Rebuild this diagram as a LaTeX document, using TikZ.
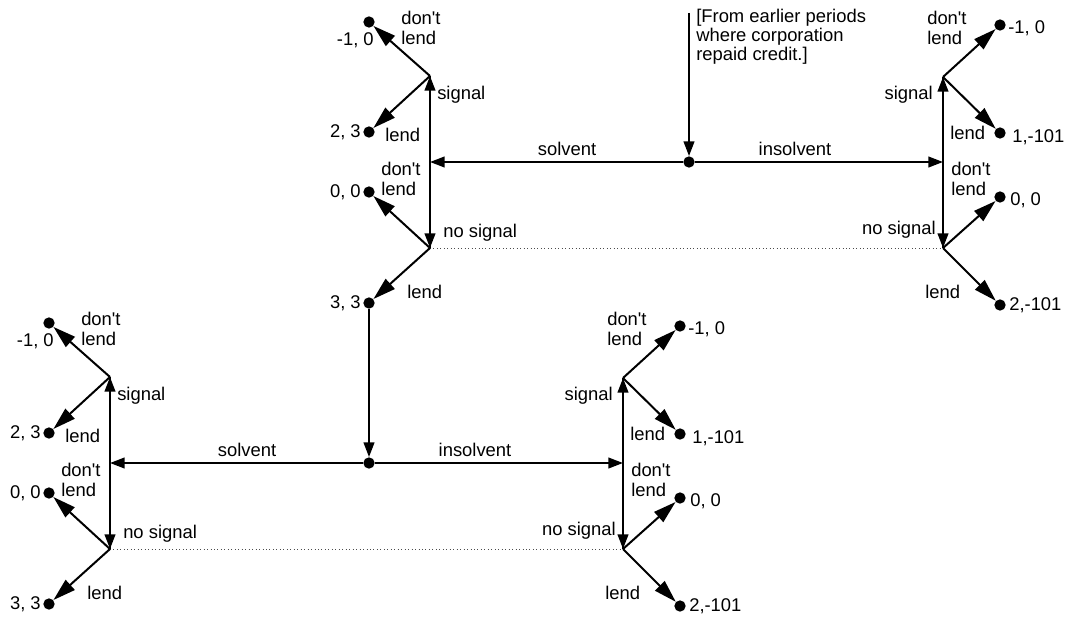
\documentclass[tikz,border=0pt]{standalone}
\usepackage{fontspec}
\setmainfont{Liberation Sans}[Ligatures=TeXOff]
\usetikzlibrary{arrows.meta}
\tikzset{
  dot/.style={circle,fill=black,inner sep=0pt,minimum size=8.5pt},
  lbl/.style={inner sep=0pt,align=left,font=\fontsize{13.8}{15}\selectfont},
  line/.style={line width=1.5pt},
  bigarr/.style={line,-{Triangle[length=17pt,width=10pt]}},
  smallarr/.style={line,-{Triangle[length=11pt,width=8pt]}},
  infoset/.style={dotted,line width=0.6pt,black!70},
}
\newcommand\gametree[1]{%
  \node[dot] (#1R) at (689,162) {};
  \coordinate (#1L) at (430,162);
  \coordinate (#1LS) at (430,76);
  \coordinate (#1LN) at (430,248);
  \node[dot] (#1LSd) at (369,22) {};
  \node[dot] (#1LSl) at (369,132) {};
  \node[dot] (#1LNd) at (369,192) {};
  \node[dot] (#1LNl) at (369,303) {};
  \coordinate (#1C) at (943,162);
  \coordinate (#1RS) at (943,77);
  \coordinate (#1RN) at (943,248);
  \node[dot] (#1RSd) at (1000,25) {};
  \node[dot] (#1RSl) at (1000,133) {};
  \node[dot] (#1RNd) at (1000,197) {};
  \node[dot] (#1RNl) at (1000,305) {};
  \draw[infoset] (#1LN) -- (#1RN);
  \draw[line] (#1L) -- (#1LS) (#1L) -- (#1LN) (#1C) -- (#1RS) (#1C) -- (#1RN);
  \draw[smallarr] (#1R) -- (#1L);
  \draw[smallarr] (#1R) -- (#1C);
  \draw[smallarr] (#1L) -- (#1LS);
  \draw[smallarr] (#1L) -- (#1LN);
  \draw[smallarr] (#1C) -- (#1RS);
  \draw[smallarr] (#1C) -- (#1RN);
  \draw[bigarr] (#1LS) -- (#1LSd);
  \draw[bigarr] (#1LS) -- (#1LSl);
  \draw[bigarr] (#1LN) -- (#1LNd);
  \draw[bigarr] (#1LN) -- (#1LNl);
  \draw[bigarr] (#1RS) -- (#1RSd);
  \draw[bigarr] (#1RS) -- (#1RSl);
  \draw[bigarr] (#1RN) -- (#1RNd);
  \draw[bigarr] (#1RN) -- (#1RNl);
  \node[lbl,anchor=east] (#1t1) at (374,40) {-1, 0};
  \node[lbl,anchor=west] (#1t2) at (401,28) {don't\\lend};
  \node[lbl,anchor=west] (#1t3) at (437,95) {signal};
  \node[lbl,anchor=east] (#1t4) at (361,132) {2, 3};
  \node[lbl,anchor=west] (#1t5) at (385,135) {lend};
  \node[lbl,anchor=west] (#1t6) at (381,179) {don't\\lend};
  \node[lbl,anchor=east] (#1t7) at (361,192) {0, 0};
  \node[lbl,anchor=west] (#1t8) at (443,233) {no signal};
  \node[lbl,anchor=west] (#1t9) at (407,292) {lend};
  \node[lbl,anchor=east] (#1t10) at (361,303) {3, 3};
  \node[lbl] (#1t11) at (567,149) {solvent};
  \node[lbl] (#1t12) at (795,149) {insolvent};
  \node[lbl,anchor=west] (#1t13) at (927,28) {don't\\lend};
  \node[lbl,anchor=west] (#1t14) at (1008,28) {-1, 0};
  \node[lbl,anchor=east] (#1t15) at (933,95) {signal};
  \node[lbl,anchor=west] (#1t16) at (950,133) {lend};
  \node[lbl,anchor=west] (#1t17) at (1012,137) {1,-101};
  \node[lbl,anchor=west] (#1t18) at (951,179) {don't\\lend};
  \node[lbl,anchor=west] (#1t19) at (1010,200) {0, 0};
  \node[lbl,anchor=east] (#1t20) at (936,230) {no signal};
  \node[lbl,anchor=west] (#1t21) at (925,292) {lend};
  \node[lbl,anchor=west] (#1t22) at (1009,305) {2,-101};
}
\begin{document}
\begin{tikzpicture}[x=0.75pt,y=-0.75pt]
  \useasboundingbox (0,0) rectangle (1077,617);
  \gametree{t}
  \begin{scope}[shift={(-320,301)}]
    \gametree{b}
  \end{scope}
  \coordinate (from) at (689,13);
  \draw[smallarr] (from) -- (tR);
  \node[lbl,anchor=west,font=\fontsize{13.8}{14.3}\selectfont] (note) at (696,37) {[From earlier periods\\where corporation\\repaid credit.]};
  \draw[smallarr] (tLNl) -- (bR);
\end{tikzpicture}
\end{document}
